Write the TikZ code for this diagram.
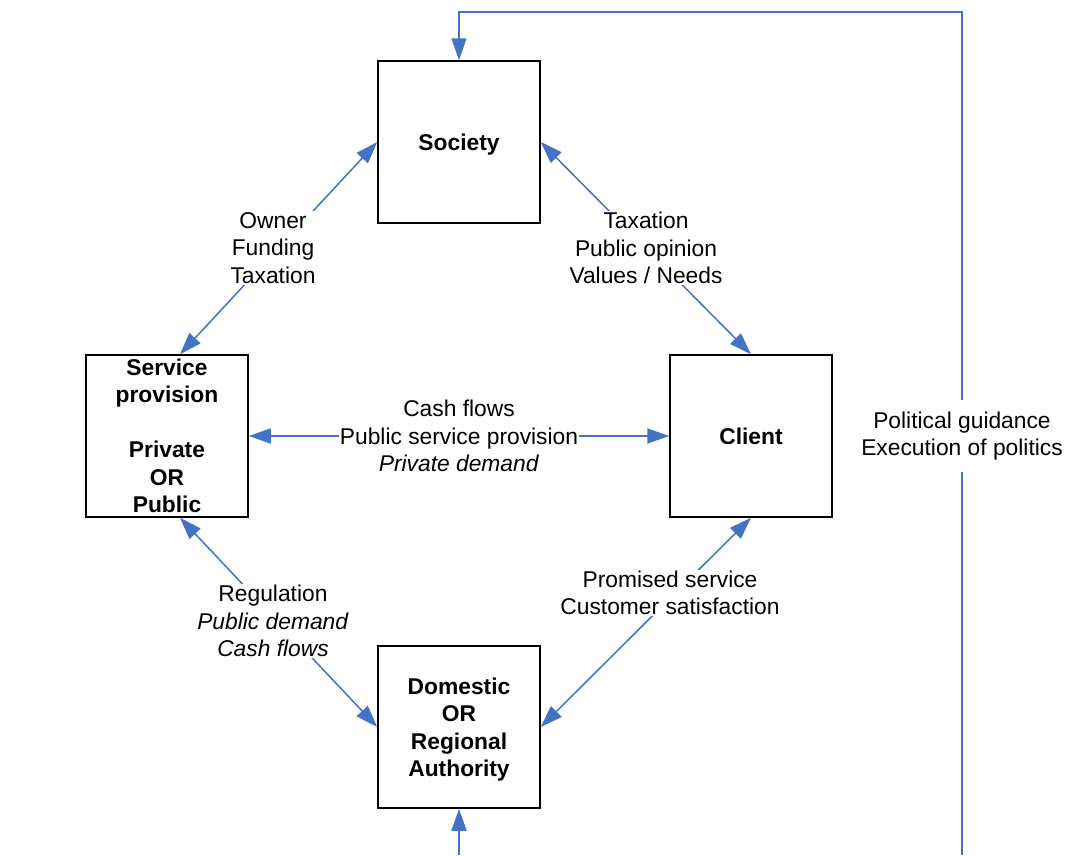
\documentclass[tikz,border=0pt]{standalone}
\usepackage{fontspec}
\setmainfont{Liberation Sans}
\usetikzlibrary{arrows.meta}
\definecolor{lineblue}{RGB}{68,114,196}
\begin{document}
\begin{tikzpicture}[x=1pt,y=-1pt,
  box/.style={draw=black,line width=1.5pt,minimum width=162pt,minimum height=162pt,inner sep=0pt,align=center,font=\fontsize{22.8}{27.5}\selectfont\bfseries},
  lbl/.style={fill=white,inner sep=1pt,align=center,font=\fontsize{22.8}{27.5}\selectfont},
  tip/.style={Triangle[length=22pt,width=15pt]},
  arr/.style={draw=lineblue,line width=1.5pt,-{Triangle[length=22pt,width=15pt]}},
  darr/.style={draw=lineblue,line width=1.5pt,{Triangle[length=22pt,width=15pt]}-{Triangle[length=22pt,width=15pt]}}]
\useasboundingbox (0,0) rectangle (1067,855);
\node[box,text depth=0pt] (soc) at (459,142) {Society};
\node[box] (serv) at (167,436) {Service\\provision\\[27.5pt]Private\\OR\\Public};
\node[box] (cli) at (751,436) {Client};
\node[box,text depth=0pt] (dom) at (459,727) {Domestic\\OR\\Regional\\Authority};
% connectors
\draw[darr] (soc.west) -- ([xshift=13pt]serv.north);
\draw[darr] (soc.east) -- (cli.north);
\draw[darr] (serv.east) -- (cli.west);
\draw[darr] ([xshift=13pt]serv.south) -- (dom.west);
\draw[darr] (cli.south) -- (dom.east);
\coordinate (fb) at (459,855);
\draw[arr] (fb) -- (dom.south);
\coordinate (rb) at (962,855);
\coordinate (rt) at (962,12);
\draw[arr] (rb) -- (rt) -| (soc.north);
% labels
\node[lbl] (l1) at (273,248) {Owner\\Funding\\Taxation};
\node[lbl] (l2) at (646,248) {Taxation\\Public opinion\\Values / Needs};
\node[lbl] (l3) at (459,436) {Cash flows\\Public service provision\\\textit{Private demand}};
\node[lbl] (l4) at (273,621) {Regulation\\\textit{Public demand}\\\textit{Cash flows}};
\node[lbl] (l5) at (670,593) {Promised service\\Customer satisfaction};
\node[lbl,inner ysep=12pt] (l6) at (962,436) {Political guidance\\Execution of politics};
\end{tikzpicture}
\end{document}
